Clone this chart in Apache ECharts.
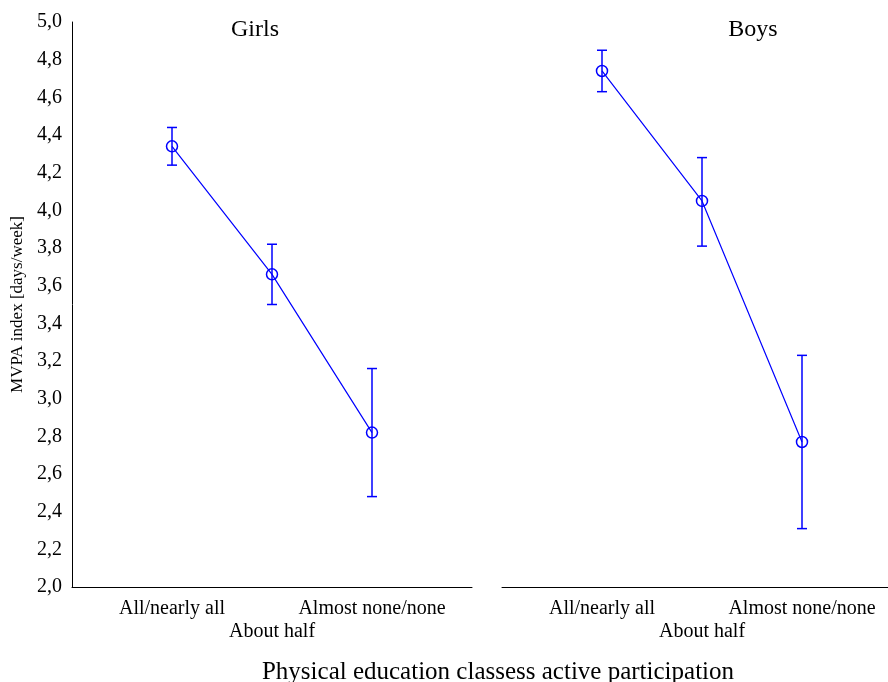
<!DOCTYPE html>
<html>
<head>
<meta charset="utf-8">
<script src="https://cdn.jsdelivr.net/npm/echarts@6/dist/echarts.min.js"></script>
<style>html,body{margin:0;padding:0;background:#fff}#c{width:888px;height:682px}</style>
</head>
<body>
<div id="c"></div>
<script>
var categories = ['All/nearly all', 'About half', 'Almost none/none'];
var panels = ['Girls', 'Boys'];
var girlsMean = [4.34, 3.66, 2.82];
var girlsLow = [4.24, 3.50, 2.48];
var girlsHigh = [4.44, 3.82, 3.16];
var boysMean = [4.74, 4.05, 2.77];
var boysLow = [4.63, 3.81, 2.31];
var boysHigh = [4.85, 4.28, 3.23];
var yTicks = ['2,0','2,2','2,4','2,6','2,8','3,0','3,2','3,4','3,6','3,8','4,0','4,2','4,4','4,6','4,8','5,0'];
var xTitle = 'Physical education classess active participation';
var yTitle = 'MVPA index [days/week]';

var FONT = "'Liberation Serif', 'Times New Roman', serif";
var BLUE = '#0000ff';

function pts(means) { return means.map(function (v, i) { return [i + 1, v]; }); }
function errs(lo, hi) { return lo.map(function (v, i) { return [i + 1, v, hi[i]]; }); }

function xAxisCfg(idx) {
  return {
    type: 'value', gridIndex: idx, min: 0, max: 4, interval: 1,
    axisLine: { show: true, lineStyle: { color: '#000', width: 1 } },
    axisTick: { show: false }, splitLine: { show: false },
    axisLabel: {
      margin: 12, fontFamily: FONT, fontSize: 20, color: '#000',
      showMinLabel: true, showMaxLabel: true, hideOverlap: false,
      formatter: function (v) {
        if (v === 2) return '{b|' + categories[1] + '}';
        if (v === 1 || v === 3) return categories[v - 1];
        return '';
      },
      rich: { b: { fontFamily: FONT, fontSize: 20, color: '#000', padding: [23, 0, 0, 0] } }
    }
  };
}
function yAxisCfg(idx, show) {
  return {
    type: 'value', gridIndex: idx, min: 2, max: 5, interval: 0.2,
    axisLine: { show: show, lineStyle: { color: '#000', width: 1 } },
    axisTick: { show: false }, splitLine: { show: false },
    axisLabel: {
      show: show, margin: 10, fontFamily: FONT, fontSize: 20, color: '#000',
      padding: [4, 0, 0, 0],
      formatter: function (v) { return yTicks[Math.round((v - 2) / 0.2)]; }
    },
    name: show ? yTitle : '', nameLocation: 'middle', nameRotate: 90, nameGap: 46,
    nameTextStyle: { fontFamily: FONT, fontSize: 17, color: '#000' }
  };
}
function errSeries(idx, data) {
  return {
    type: 'custom', xAxisIndex: idx, yAxisIndex: idx, data: data, z: 5,
    renderItem: function (params, api) {
      var x = api.value(0);
      var lo = api.coord([x, api.value(1)]);
      var hi = api.coord([x, api.value(2)]);
      var w = 5;
      var st = { stroke: BLUE, lineWidth: 1.5 };
      return {
        type: 'group', children: [
          { type: 'line', shape: { x1: lo[0], y1: lo[1], x2: hi[0], y2: hi[1] }, style: st },
          { type: 'line', shape: { x1: lo[0] - w, y1: lo[1], x2: lo[0] + w, y2: lo[1] }, style: st },
          { type: 'line', shape: { x1: hi[0] - w, y1: hi[1], x2: hi[0] + w, y2: hi[1] }, style: st }
        ]
      };
    }
  };
}
function lineSeries(idx, data) {
  return {
    type: 'line', xAxisIndex: idx, yAxisIndex: idx, data: data, z: 4,
    symbol: 'circle', symbolSize: 11, showSymbol: true,
    lineStyle: { color: BLUE, width: 1.2 },
    itemStyle: { color: 'rgba(0,0,0,0)', borderColor: BLUE, borderWidth: 1.5 },
    emphasis: { disabled: true }, animation: false
  };
}

var chart = echarts.init(document.getElementById('c'), null, { renderer: 'canvas' });
chart.setOption({
  backgroundColor: '#fff',
  animation: false,
  title: [
    { text: panels[0], left: 250, top: 13, textAlign: 'center', textStyle: { fontFamily: FONT, fontSize: 24, fontWeight: 'normal', color: '#000' } },
    { text: panels[1], left: 748, top: 13, textAlign: 'center', textStyle: { fontFamily: FONT, fontSize: 24, fontWeight: 'normal', color: '#000' } },
    { text: xTitle, left: 493, top: 655, textAlign: 'center', textStyle: { fontFamily: FONT, fontSize: 25, fontWeight: 'normal', color: '#000' } }
  ],
  grid: [
    { left: 72, top: 22, width: 400, height: 565, outerBoundsMode: 'none', containLabel: false },
    { left: 502, top: 22, width: 400, height: 565, outerBoundsMode: 'none', containLabel: false }
  ],
  xAxis: [xAxisCfg(0), xAxisCfg(1)],
  yAxis: [yAxisCfg(0, true), yAxisCfg(1, false)],
  series: [
    lineSeries(0, pts(girlsMean)),
    errSeries(0, errs(girlsLow, girlsHigh)),
    lineSeries(1, pts(boysMean)),
    errSeries(1, errs(boysLow, boysHigh))
  ]
});
</script>
</body>
</html>
